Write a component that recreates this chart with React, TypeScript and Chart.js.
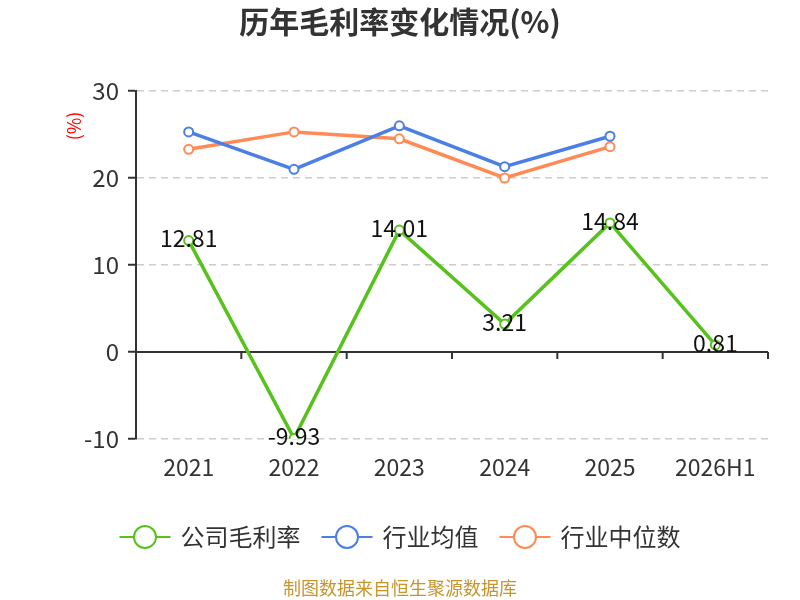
import { useEffect, useRef } from "react";
import { Chart, registerables } from "chart.js";

Chart.register(...registerables);

const FONT = '"Noto Sans CJK SC", "Noto Sans", sans-serif';

const years = ["2021", "2022", "2023", "2024", "2025", "2026H1"];
const companyMargin = [12.81, -9.93, 14.01, 3.21, 14.84, 0.81];
const industryAvg = [25.3, 21.0, 26.0, 21.3, 24.8, null];
const industryMedian = [23.3, 25.3, 24.5, 20.0, 23.6, null];
const yTicks = [-10, 0, 10, 20, 30];

const seriesNames = ["公司毛利率", "行业均值", "行业中位数"];
const seriesColors = ["#58c21c", "#4b7fe5", "#ff8a55"];

// solid zero line with tick marks on the category boundaries
const zeroAxis = {
  id: "zeroAxis",
  beforeDatasetsDraw(chart: any) {
    const { ctx, chartArea, scales } = chart;
    const y0 = scales.y.getPixelForValue(0);
    ctx.save();
    ctx.strokeStyle = "#333";
    ctx.lineWidth = 2;
    ctx.beginPath();
    ctx.moveTo(chartArea.left, y0);
    ctx.lineTo(chartArea.right, y0);
    const n = years.length;
    for (let i = 0; i < n; i++) {
      const x =
        i < n - 1
          ? (scales.x.getPixelForValue(i) + scales.x.getPixelForValue(i + 1)) / 2
          : chartArea.right;
      ctx.moveTo(x, y0);
      ctx.lineTo(x, y0 + 7);
    }
    ctx.stroke();
    ctx.restore();
  },
};

// value labels on the company series
const valueLabels = {
  id: "valueLabels",
  afterDatasetsDraw(chart: any) {
    const { ctx } = chart;
    const meta = chart.getDatasetMeta(0);
    ctx.save();
    ctx.font = `23px ${FONT}`;
    ctx.fillStyle = "#111";
    ctx.textAlign = "center";
    ctx.textBaseline = "middle";
    meta.data.forEach((pt: any, i: number) => {
      ctx.fillText(String(companyMargin[i]), pt.x, pt.y - 2);
    });
    ctx.restore();
  },
};

function legendIcon(ctx: CanvasRenderingContext2D, x: number, y: number, color: string) {
  ctx.save();
  ctx.strokeStyle = color;
  ctx.lineWidth = 2;
  ctx.beginPath();
  ctx.moveTo(x, y);
  ctx.lineTo(x + 51, y);
  ctx.stroke();
  ctx.beginPath();
  ctx.arc(x + 25.5, y, 11, 0, Math.PI * 2);
  ctx.fillStyle = "#fff";
  ctx.fill();
  ctx.stroke();
  ctx.restore();
}

// title, unit, legend and source note
const decorations = {
  id: "decorations",
  afterDraw(chart: any) {
    const { ctx, width, chartArea } = chart;
    ctx.save();

    ctx.fillStyle = "#333";
    ctx.font = `bold 30px ${FONT}`;
    ctx.textAlign = "center";
    ctx.textBaseline = "middle";
    ctx.fillText("历年毛利率变化情况(%)", width / 2, 22);

    ctx.save();
    ctx.translate(chartArea.left - 62, chartArea.top + 35);
    ctx.rotate(-Math.PI / 2);
    ctx.fillStyle = "#ff0000";
    ctx.font = `18px ${FONT}`;
    ctx.fillText("(%)", 0, 0);
    ctx.restore();

    ctx.font = `24px ${FONT}`;
    const widths = seriesNames.map((s) => ctx.measureText(s).width);
    const total = widths.reduce((a, w) => a + w + 61, 0) + 21 * (seriesNames.length - 1);
    let x = (width - total) / 2;
    const ly = 537;
    ctx.textAlign = "left";
    seriesNames.forEach((name, i) => {
      legendIcon(ctx, x, ly, seriesColors[i]);
      ctx.fillStyle = "#333";
      ctx.fillText(name, x + 61, ly);
      x += 61 + widths[i] + 21;
    });

    ctx.font = `18px ${FONT}`;
    ctx.textAlign = "center";
    ctx.fillStyle = "#c8942c";
    ctx.fillText("制图数据来自恒生聚源数据库", width / 2, 588);

    ctx.restore();
  },
};

export default function App() {
  const canvasRef = useRef<HTMLCanvasElement>(null);
  const chartRef = useRef<Chart | null>(null);

  useEffect(() => {
    document.body.style.margin = "0";
    if (!canvasRef.current) return;
    if (chartRef.current) chartRef.current.destroy();

    const line = (label: string, data: (number | null)[], color: string) => ({
      label,
      data,
      borderColor: color,
      backgroundColor: color,
      borderWidth: 3.5,
      pointRadius: 4.5,
      pointBorderWidth: 2,
      pointBackgroundColor: "#fff",
      pointBorderColor: color,
      tension: 0,
      spanGaps: false,
    });

    chartRef.current = new Chart(canvasRef.current, {
      type: "line",
      data: {
        labels: years,
        datasets: [
          line(seriesNames[0], companyMargin, seriesColors[0]),
          line(seriesNames[1], industryAvg, seriesColors[1]),
          line(seriesNames[2], industryMedian, seriesColors[2]),
        ],
      },
      options: {
        animation: false,
        responsive: true,
        maintainAspectRatio: false,
        layout: { padding: { top: 91, right: 32, bottom: 0, left: 0 } },
        plugins: {
          legend: { display: false },
          title: { display: false },
          tooltip: { enabled: false },
        },
        scales: {
          x: {
            offset: true,
            grid: { display: false },
            border: { display: false },
            ticks: {
              color: "#333",
              font: { family: FONT, size: 23 },
              padding: 6,
              maxRotation: 0,
            },
            afterFit: (s: any) => {
              s.height = 161;
            },
          },
          y: {
            min: yTicks[0],
            max: yTicks[yTicks.length - 1],
            afterBuildTicks: (s: any) => {
              s.ticks = yTicks.map((v) => ({ value: v }));
            },
            grid: {
              color: "#cccccc",
              lineWidth: 1.5,
              tickColor: "#333",
              tickLength: 8,
              tickWidth: 2,
            },
            border: { display: true, color: "#333", width: 2, dash: [7, 5] },
            ticks: {
              color: "#333",
              font: { family: FONT, size: 24 },
              padding: 9,
            },
            afterFit: (s: any) => {
              s.width = 136;
            },
          },
        },
      },
      plugins: [zeroAxis, valueLabels, decorations],
    });

    return () => {
      if (chartRef.current) {
        chartRef.current.destroy();
        chartRef.current = null;
      }
    };
  }, []);

  return (
    <div style={{ position: "relative", width: 800, height: 600 }}>
      <canvas ref={canvasRef} />
    </div>
  );
}
